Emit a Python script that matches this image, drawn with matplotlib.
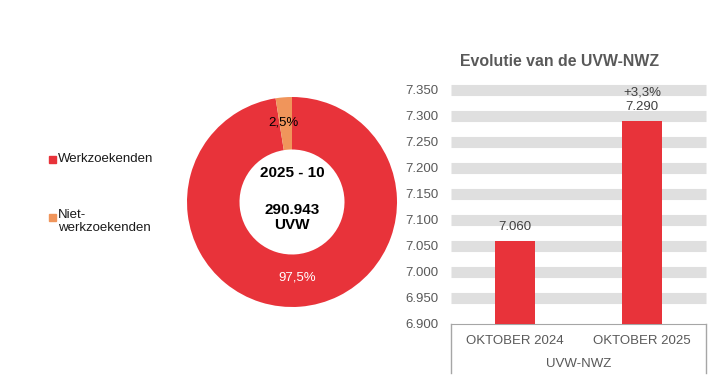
import matplotlib.pyplot as plt
from matplotlib.patches import Rectangle

plt.rcParams['font.family'] = ['Liberation Sans', 'DejaVu Sans']

# donut data
pie_labels = ['Werkzoekenden', 'Niet-\nwerkzoekenden']
pie_shares = [97.5, 2.5]
pie_colors = ['#E8333A', '#F0955B']
period = '2025 - 10'
total_uvw = '290.943'

# bar data
bar_cats = ['OKTOBER 2024', 'OKTOBER 2025']
bar_values = [7060, 7290]
bar_group = 'UVW-NWZ'
y_ticks = [6900, 6950, 7000, 7050, 7100, 7150, 7200, 7250, 7300, 7350]

W, H = 727, 387
fig = plt.figure(figsize=(W / 100, H / 100), dpi=100)

# ---- donut ----
cx, cy, r = 292, 202, 105
ax1 = fig.add_axes([(cx - r) / W, (H - cy - r) / H, 2 * r / W, 2 * r / H])
wedges, _ = ax1.pie(pie_shares, colors=pie_colors, startangle=90, counterclock=False,
                    radius=1, wedgeprops=dict(width=0.5, edgecolor='none'))
ax1.set_xlim(-1, 1)
ax1.set_ylim(-1, 1)
ax1.set_aspect('equal')
ax1.axis('off')

ax1.text(0, 0.28, period, ha='center', va='center', fontsize=11, fontweight='bold')
ax1.text(0, -0.15, total_uvw + '\nUVW', ha='center', va='center', fontsize=11,
         fontweight='bold', linespacing=1.05)
ax1.text(-0.08, 0.76, '2,5%', ha='center', va='center', fontsize=9.5, color='black')
ax1.text(0.05, -0.72, '97,5%', ha='center', va='center', fontsize=9.5, color='white')

# legend drawn by hand
leg_y = [159, 217]
for lab, col, yy in zip(pie_labels, pie_colors, leg_y):
    fig.patches.append(Rectangle((49 / W, (H - yy - 3.5) / H), 6.5 / W, 7 / H,
                                 transform=fig.transFigure, color=col))
    if '\n' in lab:
        fig.text(58 / W, (H - yy + 8) / H, lab, ha='left', va='top', fontsize=9.5,
                 color='#1a1a1a', linespacing=1.12)
    else:
        fig.text(58 / W, (H - yy) / H, lab, ha='left', va='center', fontsize=9.5,
                 color='#1a1a1a')

# ---- bars ----
x0, x1, ytop, ybot = 451, 706, 90, 324
ax2 = fig.add_axes([x0 / W, (H - ybot) / H, (x1 - x0) / W, (ybot - ytop) / H])
xs = list(range(len(bar_cats)))
ax2.bar(xs, bar_values, width=0.31, color='#E8333A', zorder=3)
ax2.set_xlim(-0.5, len(bar_cats) - 0.5)
ax2.set_ylim(y_ticks[0], y_ticks[-1])
for t in y_ticks[1:]:
    ax2.axhline(t, color='#DFDFDF', linewidth=8, zorder=0, clip_on=False,
                solid_capstyle='butt')
ax2.set_yticks(y_ticks)
ax2.set_yticklabels([f'{t:,}'.replace(',', '.') for t in y_ticks])
ax2.set_xticks(xs)
ax2.set_xticklabels(bar_cats)
ax2.tick_params(axis='y', length=0, pad=9, labelsize=9.5, labelcolor='#595959')
ax2.tick_params(axis='x', length=0, pad=8, labelsize=9.5, labelcolor='#595959')
for s in ['top', 'left', 'right']:
    ax2.spines[s].set_visible(False)
ax2.spines['bottom'].set_color('#A6A6A6')

# category box sides
for xx in (x0, x1):
    fig.add_artist(plt.Line2D([xx / W, xx / W], [(H - 324) / H, (H - 373) / H],
                              color='#A6A6A6', linewidth=1))
fig.text((x0 + x1) / 2 / W, (H - 364) / H, bar_group, ha='center', va='center',
         fontsize=9.5, color='#595959')

for x, v in zip(xs, bar_values):
    ax2.annotate(f'{v:,}'.replace(',', '.'), (x, v), xytext=(0, 10), textcoords='offset points',
                 ha='center', va='center', fontsize=9.5, color='#404040')
change = (bar_values[1] - bar_values[0]) / bar_values[0] * 100
ax2.annotate(f'{change:+.1f}%'.replace('.', ','), (xs[1], bar_values[1]), xytext=(0, 21),
             textcoords='offset points', ha='center', va='center', fontsize=9.5,
             color='#404040')

fig.text(560 / W, (H - 62) / H, 'Evolutie van de UVW-NWZ', ha='center', va='center',
         fontsize=11.4, fontweight='bold', color='#595959')

fig.savefig('out.png', dpi=100)
